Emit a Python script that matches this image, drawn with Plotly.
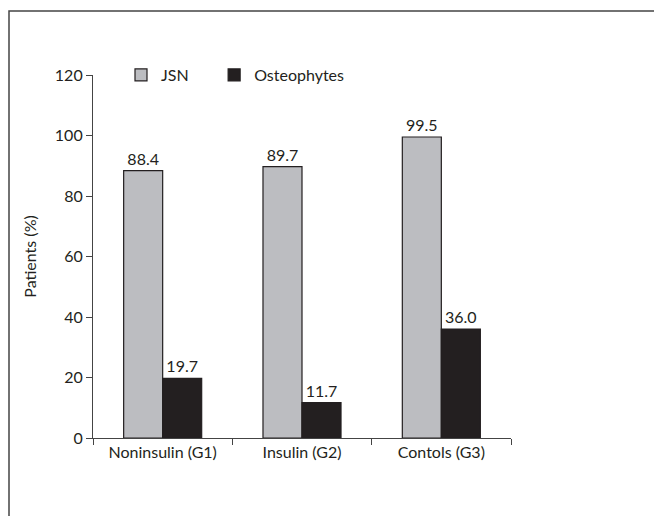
import plotly.graph_objects as go

categories = ["Noninsulin (G1)", "Insulin (G2)", "Contols (G3)"]
jsn = [88.4, 89.7, 99.5]
osteo = [19.7, 11.7, 36.0]
y_ticks = [0, 20, 40, 60, 80, 100, 120]

FONT = "Lato"
TXT = "#231f20"
FS = 16
PAD = "\u00a0" * 5  # visual spacing between legend entries

# page body has an 8px margin, so figure coordinates are offset by 8px
L, R, T, B = 85, 503, 67, 430
W, H = 662, 516

fig = go.Figure()
fig.add_trace(go.Bar(
    name="JSN" + PAD, x=categories, y=jsn,
    marker=dict(color="#bcbdc1", line=dict(color="#231f20", width=1.2)),
    text=[f"{v:.1f}" for v in jsn], textposition="outside",
    textfont=dict(size=FS, color=TXT, family=FONT), cliponaxis=False,
))
fig.add_trace(go.Bar(
    name="Osteophytes", x=categories, y=osteo,
    marker=dict(color="#231f20", line=dict(color="#231f20", width=1.2)),
    text=[f"{v:.1f}" for v in osteo], textposition="outside",
    textfont=dict(size=FS, color=TXT, family=FONT), cliponaxis=False,
))

pw, ph = R - L, B - T
fig.update_layout(
    width=W, height=H,
    margin=dict(l=L, r=W - R, t=T, b=H - B),
    paper_bgcolor="white", plot_bgcolor="white",
    font=dict(family=FONT, size=FS, color=TXT),
    barmode="group", bargap=0.44, bargroupgap=0,
    showlegend=True,
    legend=dict(orientation="h", x=(113 - L) / pw, y=1.0, xanchor="left", yanchor="middle",
                font=dict(size=FS, family=FONT, color=TXT),
                itemwidth=30, tracegroupgap=0, bgcolor="rgba(0,0,0,0)"),
    xaxis=dict(showline=True, linecolor="#444", linewidth=1.2,
               ticks="outside", tickson="boundaries", ticklen=6, tickcolor="#444",
               showgrid=False, tickfont=dict(size=FS)),
    yaxis=dict(range=[0, 120], tickvals=y_ticks, showline=True, linecolor="#444",
               linewidth=1.2, ticks="outside", ticklen=6, tickcolor="#444",
               showgrid=False, zeroline=False, tickfont=dict(size=FS),
               title=dict(text="Patients (%)", font=dict(size=FS), standoff=14)),
    shapes=[dict(type="rect", xref="paper", yref="paper",
                 x0=(1 - L) / pw, x1=1.6, y0=-0.5, y1=1 + (T - 3) / ph,
                 line=dict(color="#444", width=1.5), layer="below")],
)

fig.write_html("out.html")
